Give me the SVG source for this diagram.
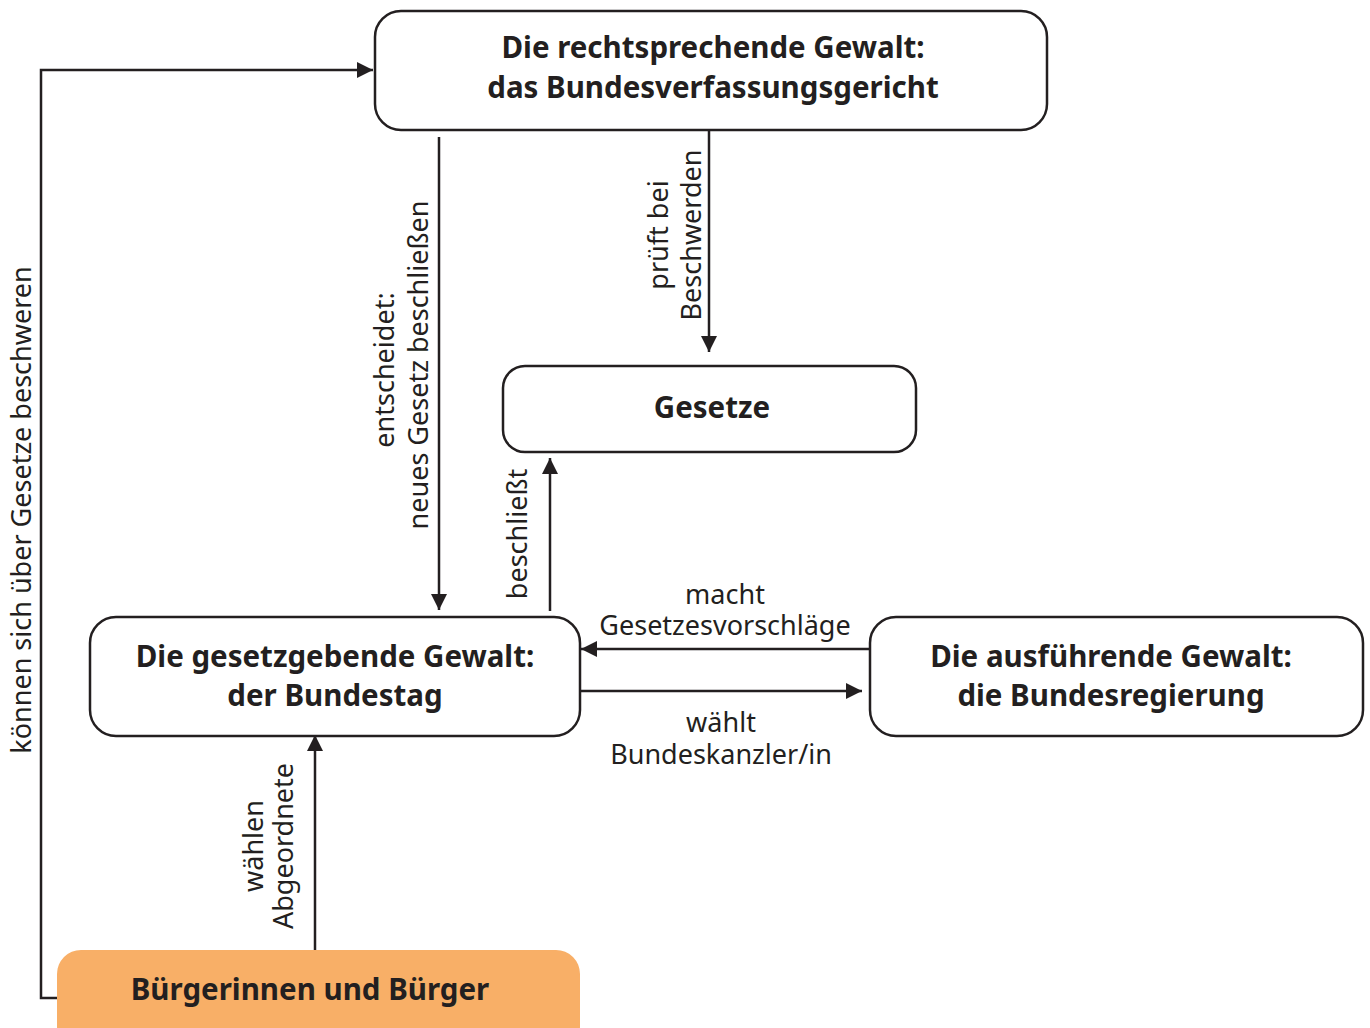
<svg xmlns="http://www.w3.org/2000/svg" width="1370" height="1028" viewBox="0 0 1370 1028">
<style>
.box{fill:#fff;stroke:#231f20;stroke-width:2.5}
.title{font-family:"Noto Sans","Liberation Sans",sans-serif;font-weight:bold;font-size:29.5px;fill:#231f20;text-anchor:middle}
.lbl{font-family:"Noto Sans","Liberation Sans",sans-serif;font-size:27px;fill:#231f20;text-anchor:middle}
.conn{fill:none;stroke:#231f20;stroke-width:2.5}
</style>
<defs>
<marker id="arr" markerUnits="userSpaceOnUse" markerWidth="20" markerHeight="20" viewBox="0 0 20 20" refX="18" refY="10" orient="auto">
<path d="M2,2 L18,10 L2,18 Z" fill="#231f20"/>
</marker>
</defs>
<g id="connectors">
<path class="conn" d="M57,998 H41 V70 H373" marker-end="url(#arr)"/>
<path class="conn" d="M439,137 V610" marker-end="url(#arr)"/>
<path class="conn" d="M709,131 V352" marker-end="url(#arr)"/>
<path class="conn" d="M550,611 V458" marker-end="url(#arr)"/>
<path class="conn" d="M870,649 H581" marker-end="url(#arr)"/>
<path class="conn" d="M581,691 H862" marker-end="url(#arr)"/>
<path class="conn" d="M315,950 V735" marker-end="url(#arr)"/>
<text class="lbl" transform="translate(31,510) rotate(-90)">können sich über Gesetze beschweren</text>
<text class="lbl" transform="translate(394,370) rotate(-90)">entscheidet:</text>
<text class="lbl" transform="translate(428,365) rotate(-90)">neues Gesetz beschließen</text>
<text class="lbl" transform="translate(668,235) rotate(-90)">prüft bei</text>
<text class="lbl" transform="translate(701,235) rotate(-90)">Beschwerden</text>
<text class="lbl" transform="translate(527,534) rotate(-90)">beschließt</text>
<text class="lbl" x="725" y="604">macht</text>
<text class="lbl" x="725" y="635">Gesetzesvorschläge</text>
<text class="lbl" x="721" y="732">wählt</text>
<text class="lbl" x="721" y="764">Bundeskanzler/in</text>
<text class="lbl" transform="translate(263,846) rotate(-90)">wählen</text>
<text class="lbl" transform="translate(293,846) rotate(-90)">Abgeordnete</text>
</g>
<g id="n-gericht">
<rect class="box" x="375" y="11" width="672" height="119" rx="26"/>
<text class="title" x="713" y="58">Die rechtsprechende Gewalt:</text>
<text class="title" x="713" y="98">das Bundesverfassungsgericht</text>
</g>
<g id="n-gesetze">
<rect class="box" x="503" y="366" width="413" height="86" rx="22"/>
<text class="title" x="712" y="418">Gesetze</text>
</g>
<g id="n-bundestag">
<rect class="box" x="90" y="617" width="490" height="119" rx="26"/>
<text class="title" x="335" y="667">Die gesetzgebende Gewalt:</text>
<text class="title" x="335" y="706">der Bundestag</text>
</g>
<g id="n-regierung">
<rect class="box" x="870" y="617" width="493" height="119" rx="26"/>
<text class="title" x="1111" y="667">Die ausführende Gewalt:</text>
<text class="title" x="1111" y="706">die Bundesregierung</text>
</g>
<g id="n-buerger">
<rect x="57" y="950" width="523" height="100" rx="24" fill="#f8af67"/>
<text class="title" x="310" y="1000">Bürgerinnen und Bürger</text>
</g>
</svg>
